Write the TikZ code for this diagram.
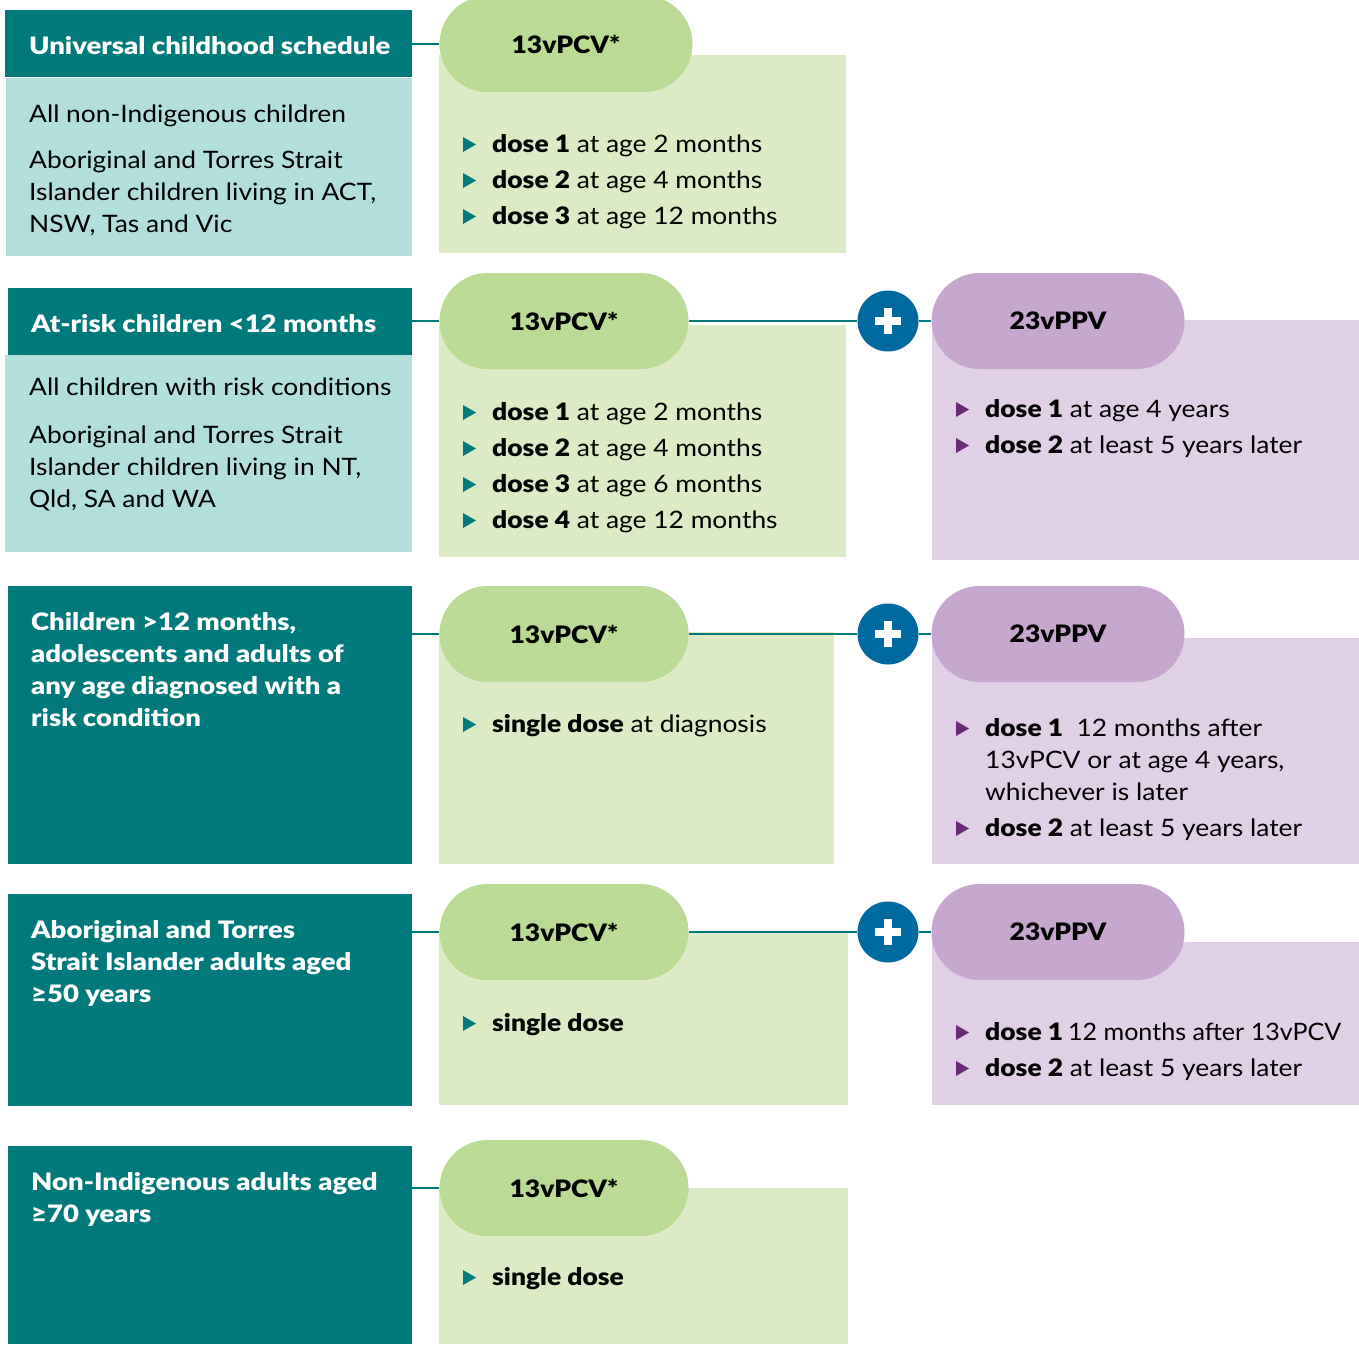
\documentclass[tikz,border=0pt]{standalone}
\usepackage{graphicx}
\usepackage{fontspec}
\setmainfont{Lato}[FakeStretch=1.10, BoldFont={Lato Black}]
\definecolor{hdrteal}{HTML}{00797A}
\definecolor{lteal}{HTML}{B2DFDB}
\definecolor{pgreen}{HTML}{BBDA95}
\definecolor{lgreen}{HTML}{DCEAC6}
\definecolor{ppurple}{HTML}{C6A8CE}
\definecolor{lpurple}{HTML}{E0D0E6}
\definecolor{plusblue}{HTML}{0069A0}
\definecolor{tritl}{HTML}{007A7B}
\definecolor{tripu}{HTML}{6B2A78}
\newcommand\bfs{\fontsize{24}{32}\selectfont}
\tikzset{
  boxnw/.style={inner sep=0, anchor=north west, minimum width=#1},
  txt/.style={anchor=base west, inner sep=0, font=\bfs},
  wtxt/.style={anchor=base west, inner sep=0, text=white, font=\bfs\bfseries\addfontfeature{FakeStretch=1.145}},
  pill/.style={rounded corners=48pt, minimum width=250pt, minimum height=96pt, inner sep=0, font=\bfs\bfseries},
  link/.style={draw=hdrteal, line width=2.5pt},
  plusc/.style={circle, fill=plusblue, minimum size=61pt, inner sep=0},
  plusbar/.style={draw=white, line width=7.5pt},
}
\newcommand\bul[5]{%
  \fill[#1] (#2,#3-15) -- (#2+13,#3-7.5) -- (#2,#3) -- cycle;
  \node[txt] (#4) at (#2+29,#3) {#5};}
\newcommand\plusmark[1]{%
  \draw[plusbar] ([xshift=-13pt]#1.center) -- ([xshift=13pt]#1.center);
  \draw[plusbar] ([yshift=-13pt]#1.center) -- ([yshift=13pt]#1.center);}
\begin{document}
\begin{tikzpicture}[x=1pt,y=-1pt]
\useasboundingbox[fill=white] (0,0) rectangle (1359,1344);

% ---------- Row 1 ----------
\node[boxnw=407pt, minimum height=67pt, fill=hdrteal] (h1) at (5,10) {};
\node[boxnw=406pt, minimum height=178pt, fill=lteal] (l1) at (6,78) {};
\node[boxnw=407pt, minimum height=198pt, fill=lgreen] (g1) at (439,55) {};
\node[pill, fill=pgreen, minimum width=253pt] (p1) at (566,44) {13vPCV*};
\draw[link] (h1.east |- p1.west) -- (p1.west);
\node[wtxt] (t1) at (29,54) {Universal childhood schedule};
\node[txt] (t1a) at (29,122) {All non-Indigenous children};
\node[txt] (t1b) at (29,168) {Aboriginal and Torres Strait};
\node[txt] (t1c) at (29,200) {Islander children living in ACT,};
\node[txt] (t1d) at (29,232) {NSW, Tas and Vic};
\bul{tritl}{463}{152}{b11}{\textbf{dose 1} at age 2 months}
\bul{tritl}{463}{188}{b12}{\textbf{dose 2} at age 4 months}
\bul{tritl}{463}{224}{b13}{\textbf{dose 3} at age 12 months}

% ---------- Row 2 ----------
\node[boxnw=404pt, minimum height=67pt, fill=hdrteal] (h2) at (8,288) {};
\node[boxnw=407pt, minimum height=197pt, fill=lteal] (l2) at (5,355) {};
\node[boxnw=407pt, minimum height=232pt, fill=lgreen] (g2) at (439,325) {};
\node[boxnw=427pt, minimum height=240pt, fill=lpurple] (r2) at (932,320) {};
\node[pill, fill=pgreen, minimum width=249pt] (p2) at (564,321) {13vPCV*};
\node[plusc] (x2) at (888,321) {};
\node[pill, fill=ppurple, minimum width=253pt] (q2) at (1058,321) {23vPPV};
\draw[link] (h2.east |- p2.west) -- (p2.west);
\draw[link] (p2.east) -- (x2.west);
\draw[link] (x2.east) -- (q2.west);
\plusmark{x2}
\node[wtxt] (t2) at (31,332) {At-risk children <12 months};
\node[txt] (t2a) at (29,395) {All children with risk conditions};
\node[txt] (t2b) at (29,443) {Aboriginal and Torres Strait};
\node[txt] (t2c) at (29,475) {Islander children living in NT,};
\node[txt] (t2d) at (29,507) {Qld, SA and WA};
\bul{tritl}{463}{420}{b21}{\textbf{dose 1} at age 2 months}
\bul{tritl}{463}{456}{b22}{\textbf{dose 2} at age 4 months}
\bul{tritl}{463}{492}{b23}{\textbf{dose 3} at age 6 months}
\bul{tritl}{463}{528}{b24}{\textbf{dose 4} at age 12 months}
\bul{tripu}{956}{417}{d21}{\textbf{dose 1} at age 4 years}
\bul{tripu}{956}{453}{d22}{\textbf{dose 2} at least 5 years later}

% ---------- Row 3 ----------
\node[boxnw=404pt, minimum height=278pt, fill=hdrteal] (h3) at (8,586) {};
\node[boxnw=395pt, minimum height=232pt, fill=lgreen] (g3) at (439,632) {};
\node[boxnw=427pt, minimum height=226pt, fill=lpurple] (r3) at (932,638) {};
\node[pill, fill=pgreen, minimum width=249pt] (p3) at (564,634) {13vPCV*};
\node[plusc] (x3) at (888,634) {};
\node[pill, fill=ppurple, minimum width=253pt] (q3) at (1058,634) {23vPPV};
\draw[link] (h3.east |- p3.west) -- (p3.west);
\draw[link] (p3.east) -- (x3.west);
\draw[link] (x3.east) -- (q3.west);
\plusmark{x3}
\node[wtxt] (t3a) at (31,630) {Children >12 months,};
\node[wtxt] (t3b) at (31,662) {adolescents and adults of};
\node[wtxt] (t3c) at (31,694) {any age diagnosed with a};
\node[wtxt] (t3d) at (31,726) {risk condition};
\bul{tritl}{463}{732}{b31}{\textbf{single dose} at diagnosis}
\bul{tripu}{956}{736}{d31}{\textbf{dose 1}\ \ 12 months after}
\node[txt] (d31b) at (985,768) {13vPCV or at age 4 years,};
\node[txt] (d31c) at (985,800) {whichever is later};
\bul{tripu}{956}{836}{d32}{\textbf{dose 2} at least 5 years later}

% ---------- Row 4 ----------
\node[boxnw=404pt, minimum height=212pt, fill=hdrteal] (h4) at (8,894) {};
\node[boxnw=409pt, minimum height=173pt, fill=lgreen] (g4) at (439,932) {};
\node[boxnw=427pt, minimum height=163pt, fill=lpurple] (r4) at (932,942) {};
\node[pill, fill=pgreen, minimum width=249pt] (p4) at (564,932) {13vPCV*};
\node[plusc] (x4) at (888,932) {};
\node[pill, fill=ppurple, minimum width=253pt] (q4) at (1058,932) {23vPPV};
\draw[link] (h4.east |- p4.west) -- (p4.west);
\draw[link] (p4.east) -- (x4.west);
\draw[link] (x4.east) -- (q4.west);
\plusmark{x4}
\node[wtxt] (t4a) at (31,938) {Aboriginal and Torres};
\node[wtxt] (t4b) at (31,970) {Strait Islander adults aged};
\node[wtxt] (t4c) at (31,1002) {≥50 years};
\bul{tritl}{463}{1031}{b41}{\textbf{single dose}}
\bul{tripu}{956}{1040}{d41}{\textbf{dose 1}\hspace{5pt}\scalebox{0.95}[1]{12 months after 13vPCV}}
\bul{tripu}{956}{1076}{d42}{\textbf{dose 2} at least 5 years later}

% ---------- Row 5 ----------
\node[boxnw=404pt, minimum height=198pt, fill=hdrteal] (h5) at (8,1146) {};
\node[boxnw=409pt, minimum height=156pt, fill=lgreen] (g5) at (439,1188) {};
\node[pill, fill=pgreen, minimum width=249pt] (p5) at (564,1188) {13vPCV*};
\draw[link] (h5.east |- p5.west) -- (p5.west);
\node[wtxt] (t5a) at (31,1190) {Non-Indigenous adults aged};
\node[wtxt] (t5b) at (31,1222) {≥70 years};
\bul{tritl}{463}{1285}{b51}{\textbf{single dose}}
\end{tikzpicture}
\end{document}
